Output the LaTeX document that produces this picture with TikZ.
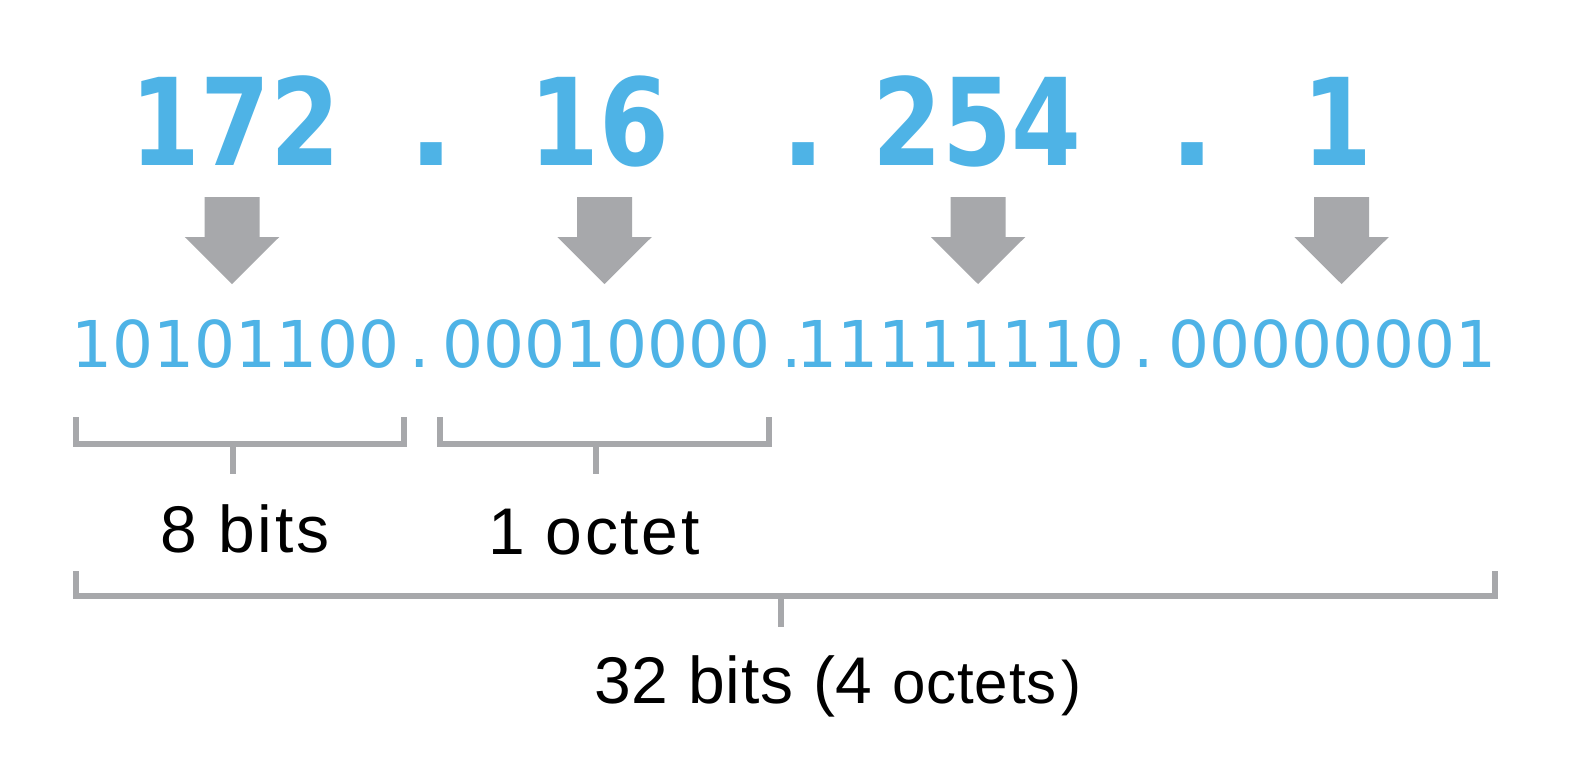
\documentclass[tikz,border=0pt]{standalone}
\usepackage{fontspec}
\usepackage{graphicx}
\setmainfont{Liberation Sans}[LetterSpace=4]
\newfontfamily\binfont{DejaVu Sans}
\newfontfamily\bigfont{DejaVu Sans}
\definecolor{ipblue}{RGB}{78,179,230}
\definecolor{arrgrey}{RGB}{167,168,171}
\newcommand{\narrow}[1]{\scalebox{0.83}[1]{#1}}
\begin{document}
\begin{tikzpicture}[x=1pt,y=-1pt,
  bignum/.style={text=ipblue, font=\bigfont\bfseries\fontsize{121}{124}\selectfont, anchor=base, inner sep=0pt},
  binnum/.style={text=ipblue, font=\binfont\fontsize{64.5}{68}\selectfont, anchor=base, inner sep=0pt},
  lbl/.style={text=black, font=\fontsize{66}{70}\selectfont, anchor=base, inner sep=0pt},
  bracket/.style={draw=arrgrey, line width=6pt},
  blockarrow/.style={fill=arrgrey}]
\useasboundingbox (0,0) rectangle (1576,766);
\fill[white] (0,0) rectangle (1576,766);
% decimal address
\node[bignum] (n1) at (235.5,165) {\narrow{172}};
\node[bignum] (d1) at (431.6,165) {.};
\node[bignum] (n2) at (599,165) {\narrow{16}};
\node[bignum] (d2) at (803.5,165) {.};
\node[bignum] (n3) at (977,165) {\narrow{254}};
\node[bignum] (d3) at (1192,165) {.};
\node[bignum] (n4) at (1337,165) {\narrow{1}};
% binary address
\node[binnum] (b1) at (235.5,367) {10101100};
\node[binnum] (p1) at (420,367) {.};
\node[binnum] (b2) at (606.5,367) {00010000};
\node[binnum] (p2) at (791.5,367) {.};
\node[binnum] (b3) at (960.5,367) {11111110};
\node[binnum] (p3) at (1144,367) {.};
\node[binnum] (b4) at (1332.5,367) {00000001};
% block arrows
\coordinate (a1) at (232,197);
\coordinate (a2) at (604.5,197);
\coordinate (a3) at (978,197);
\coordinate (a4) at (1341.5,197);
\foreach \a in {a1,a2,a3,a4}
  \fill[blockarrow, shift={(\a)}] (-27.5,0) -- (27.5,0) -- (27.5,40) -- (47.25,40) -- (0,87) -- (-47.25,40) -- (-27.5,40) -- cycle;
% brackets
\draw[bracket] (76,417) -- (76,444) -- (403.5,444) -- (403.5,417);
\draw[bracket] (440,417) -- (440,444) -- (769,444) -- (769,417);
\draw[bracket] (76,571) -- (76,596) -- (1494.5,596) -- (1494.5,571);
\coordinate (s1) at (233,444);
\coordinate (s2) at (596,444);
\coordinate (s3) at (781,596);
\draw[bracket] (s1) -- ++(0,30);
\draw[bracket] (s2) -- ++(0,30);
\draw[bracket] (s3) -- ++(0,31);
% labels
\node[lbl] (l1) at (245,552) {8 bits};
\node[lbl] (l2) at (594,554) {1 octet};
\node[lbl] (l3) at (838,703) {\addfontfeature{LetterSpace=1.5}32 bits (4 {\fontsize{60}{64}\selectfont octets\kern5pt)}};
\end{tikzpicture}
\end{document}
